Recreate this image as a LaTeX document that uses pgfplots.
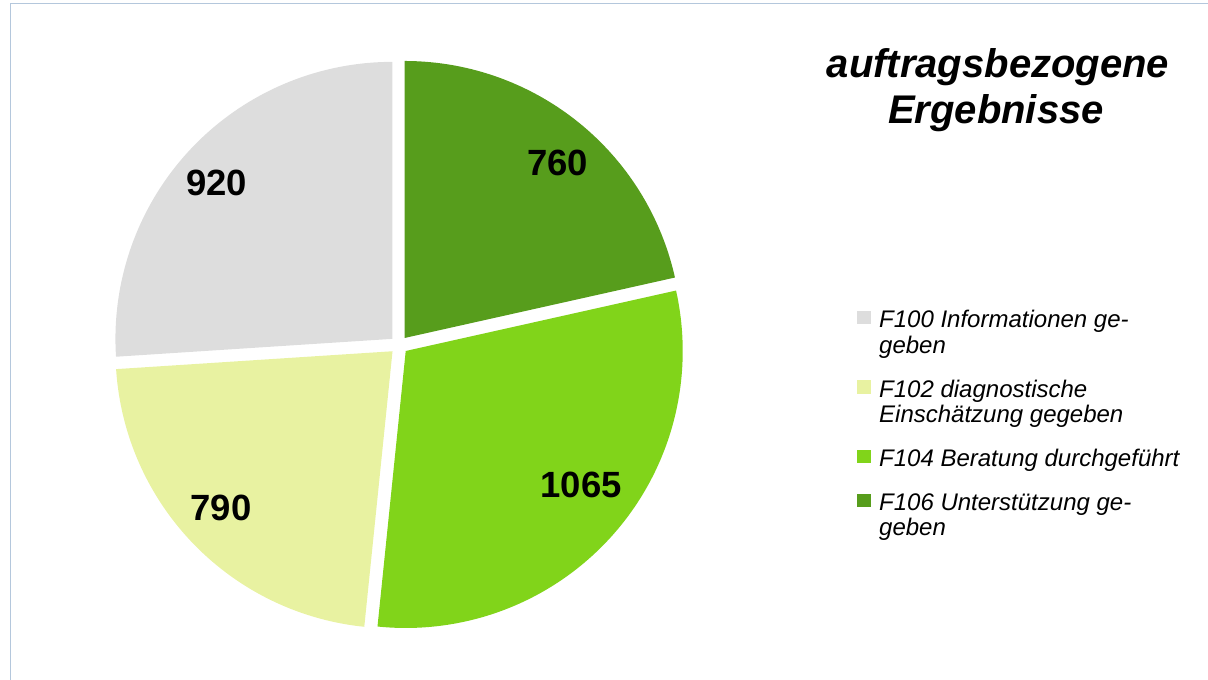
\documentclass[border=0pt]{standalone}
\usepackage{fontspec}
\setmainfont{Liberation Sans}
\usepackage{pgfplots}
\pgfplotsset{compat=1.18}
\definecolor{cA}{HTML}{DDDDDD}
\definecolor{cB}{HTML}{E8F2A1}
\definecolor{cC}{HTML}{81D41A}
\definecolor{cD}{HTML}{579D1C}
\definecolor{frame}{HTML}{B4C7DC}
% values
\def\vA{920}  % F100
\def\vB{790}  % F102
\def\vC{1065} % F104
\def\vD{760}  % F106
\begin{document}
\begin{tikzpicture}
\useasboundingbox (0,0) rectangle (1208pt,680pt);
\pgfmathsetmacro{\tot}{\vA+\vB+\vC+\vD}
\def\Cx{399}\def\Cy{345}\def\R{277}\def\dd{9}
% angles (clockwise from 12 o'clock), slice D first
\pgfmathsetmacro{\sD}{90}
\pgfmathsetmacro{\eD}{\sD-360*(\vD/\tot)}
\pgfmathsetmacro{\sC}{\eD}
\pgfmathsetmacro{\eC}{\sC-360*(\vC/\tot)}
\pgfmathsetmacro{\sB}{\eC}
\pgfmathsetmacro{\eB}{\sB-360*(\vB/\tot)}
\pgfmathsetmacro{\sA}{\eB}
\pgfmathsetmacro{\eA}{\sA-360*(\vA/\tot)}
\pgfmathsetmacro{\oxA}{\Cx+\dd*cos((\sA+\eA)/2)}\pgfmathsetmacro{\oyA}{\Cy-\dd*sin((\sA+\eA)/2)}
\pgfmathsetmacro{\oxB}{\Cx+\dd*cos((\sB+\eB)/2)}\pgfmathsetmacro{\oyB}{\Cy-\dd*sin((\sB+\eB)/2)}
\pgfmathsetmacro{\oxC}{\Cx+\dd*cos((\sC+\eC)/2)}\pgfmathsetmacro{\oyC}{\Cy-\dd*sin((\sC+\eC)/2)}
\pgfmathsetmacro{\oxD}{\Cx+\dd*cos((\sD+\eD)/2)}\pgfmathsetmacro{\oyD}{\Cy-\dd*sin((\sD+\eD)/2)}
\begin{axis}[
  at={(0,0)}, anchor=south west, scale only axis,
  width=1208pt, height=680pt,
  xmin=0, xmax=1208, ymin=0, ymax=680, y dir=reverse,
  hide axis, clip=false,
  legend image code/.code={\fill[#1] (0pt,-14pt) rectangle (14pt,-0.7pt);},
  legend style={at={(axis cs:857,310)}, anchor=north west, draw=none, fill=none,
    inner sep=0pt, row sep=25pt, column sep=8pt,
    font=\fontsize{24}{25.5}\selectfont\itshape,
    nodes={inner sep=0pt},
    cells={anchor=north west, align=left}},
]
\addplot[fill=cA, draw=none, domain=\eA:\sA, samples=150, variable=\t]
  ({\oxA+\R*cos(\t)}, {\oyA-\R*sin(\t)}) -- (axis cs:\oxA,\oyA) -- cycle;
\addlegendentry{F100 Informationen ge-\\geben}
\addplot[fill=cB, draw=none, domain=\eB:\sB, samples=150, variable=\t]
  ({\oxB+\R*cos(\t)}, {\oyB-\R*sin(\t)}) -- (axis cs:\oxB,\oyB) -- cycle;
\addlegendentry{F102 diagnostische\\Einschätzung gegeben}
\addplot[fill=cC, draw=none, domain=\eC:\sC, samples=150, variable=\t]
  ({\oxC+\R*cos(\t)}, {\oyC-\R*sin(\t)}) -- (axis cs:\oxC,\oyC) -- cycle;
\addlegendentry{F104 Beratung durchgeführt}
\addplot[fill=cD, draw=none, domain=\eD:\sD, samples=150, variable=\t]
  ({\oxD+\R*cos(\t)}, {\oyD-\R*sin(\t)}) -- (axis cs:\oxD,\oyD) -- cycle;
\addlegendentry{F106 Unterstützung ge-\\geben}
% value labels
\node[font=\fontsize{36.5}{40}\selectfont\bfseries] at (axis cs:216.7,183.3) {920};
\node[font=\fontsize{36.5}{40}\selectfont\bfseries] at (axis cs:221,507.5) {790};
\node[font=\fontsize{36.5}{40}\selectfont\bfseries] at (axis cs:581.2,485.3) {1065};
\node[font=\fontsize{36.5}{40}\selectfont\bfseries] at (axis cs:557.5,163) {760};
% title
\node[font=\fontsize{40}{45}\selectfont\bfseries\itshape, anchor=base] at (axis cs:998,77.7) {auftragsbezogene};
\node[font=\fontsize{40}{45}\selectfont\bfseries\itshape, anchor=base] at (axis cs:996,123.3) {Ergebnisse};
% frame
\draw[color=frame, line width=1pt] (axis cs:10.5,680) -- (axis cs:10.5,3.5) -- (axis cs:1208,3.5);
\end{axis}
\end{tikzpicture}
\end{document}
